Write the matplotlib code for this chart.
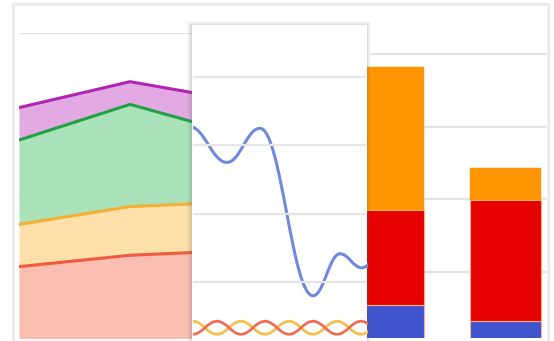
import matplotlib
matplotlib.use("Agg")
import matplotlib.pyplot as plt
from matplotlib.patches import Rectangle, PathPatch
from matplotlib.path import Path

W, H = 554, 341

# ---- stacked area chart (back card, left) ----
area_x = [0, 1, 2]
area_red = [28, 31.5, 33]
area_orange = [13, 15, 15]
area_green = [26, 31.5, 20.5]
area_purple = [10, 7, 10.5]
area_fills = ["#f9bdb1", "#fde0a9", "#a9e2b9", "#e3a9e2"]
area_lines = ["#ef5b3c", "#f3b033", "#22a144", "#b023b3"]

# ---- smooth line chart (front card) ----
wave_x = [-0.2, 1.95, 3.85, 6.9, 8.45, 9.7, 11.2]
wave_y = [65.5, 55, 65, 15.9, 28.2, 24.1, 31]
osc_x = [0, 1.38, 2.76, 4.14, 5.52, 6.9, 8.28, 9.66, 11.04]
osc_orange = [8.4, 4.6, 8.4, 4.6, 8.4, 4.6, 8.4, 4.6, 8.4]
osc_red = [4.6, 8.4, 4.6, 8.4, 4.6, 8.4, 4.6, 8.4, 4.6]

# ---- stacked bar chart (back card, right) ----
bar_pos = [0, 1]
bar_blue = [11, 6.5]
bar_red = [26, 33.3]
bar_orange = [39.5, 8.8]

fig = plt.figure(figsize=(W / 100, H / 100), dpi=100)
fig.patch.set_facecolor("white")


def px_axes(x0, y0, x1, y1, z):
    """Axes placed by pixel box (top-left origin)."""
    ax = fig.add_axes([x0 / W, 1 - y1 / H, (x1 - x0) / W, (y1 - y0) / H], zorder=z)
    ax.set_axis_off()
    return ax


def smooth_path(xs, ys):
    """Bezier path through points with flat tangents at each point."""
    verts = [(xs[0], ys[0])]
    codes = [Path.MOVETO]
    for i in range(len(xs) - 1):
        dx = (xs[i + 1] - xs[i]) * 0.4
        verts += [(xs[i] + dx, ys[i]), (xs[i + 1] - dx, ys[i + 1]), (xs[i + 1], ys[i + 1])]
        codes += [Path.CURVE4] * 3
    return Path(verts, codes)


# background card frame
bg = fig.add_axes([0, 0, 1, 1], zorder=0)
bg.set_xlim(0, W)
bg.set_ylim(H, 0)
bg.set_axis_off()
for i, a in enumerate([0.05, 0.08, 0.12]):
    bg.add_patch(Rectangle((12 + i, 3 + i), 538 - 2 * i, 360, fill=False,
                           ec="#b0b0b0", lw=1.2, alpha=a * 2))
bg.add_patch(Rectangle((15, 6), 532, 360, fc="white", ec="none"))

# stacked area
ax1 = px_axes(19, 33, 241, 338, 1)
ax1.set_xlim(0, 2)
ax1.set_ylim(6, 100)
for g in [25, 50, 75, 100]:
    ax1.axhline(g, color="#e3e3e3", lw=1.6, zorder=0.5)
base = [0, 0, 0]
for vals, fc, lc in zip([area_red, area_orange, area_green, area_purple], area_fills, area_lines):
    top = [b + v for b, v in zip(base, vals)]
    ax1.fill_between(area_x, base, top, color=fc, lw=0, zorder=1)
    ax1.plot(area_x, top, color=lc, lw=2.2, zorder=2, solid_capstyle="butt")
    base = top

# stacked bars
grid_ax = px_axes(370, 10, 547, 338, 0.9)
grid_ax.set_xlim(0, 1)
grid_ax.set_ylim(1.9, 92.1)
for g in [20, 40, 60, 80]:
    grid_ax.axhline(g, color="#e3e3e3", lw=1.6)
grid_ax.patch.set_alpha(0)

ax3 = px_axes(353, 10, 547, 338, 1)
ax3.patch.set_alpha(0)
ax3.set_xlim(-0.303, 1.355)
ax3.set_ylim(1.9, 92.1)
b1 = bar_blue
b2 = [a + b for a, b in zip(bar_blue, bar_red)]
ax3.bar(bar_pos, bar_blue, width=0.607, color="#3f53cc", edgecolor="#f7b0a0", lw=0.8)
ax3.bar(bar_pos, bar_red, width=0.607, bottom=b1, color="#e60000", edgecolor="#ffb080", lw=0.8)
ax3.bar(bar_pos, bar_orange, width=0.607, bottom=b2, color="#ff9500", edgecolor="#ff9500", lw=0.3)

# front card with soft shadow
shadow = fig.add_axes([0, 0, 1, 1], zorder=2)
shadow.set_xlim(0, W)
shadow.set_ylim(H, 0)
shadow.set_axis_off()
shadow.patch.set_alpha(0)
for i, a in enumerate([0.03, 0.05, 0.07, 0.09]):
    shadow.add_patch(Rectangle((187 + i, 21 + i), 184 - 2 * i, 340, fc="#707070",
                               ec="none", alpha=a))
shadow.add_patch(Rectangle((192, 25), 175, 340, fc="white", ec="none"))

ax2 = px_axes(193, 25, 368, 338, 3)
ax2.patch.set_alpha(0)
ax2.set_xlim(0, 10.06)
ax2.set_ylim(3.5, 95.3)
for g in [20, 40, 60, 80]:
    ax2.axhline(g, xmax=0.985, color="#e6e6e6", lw=1.6)
ax2.add_patch(PathPatch(smooth_path(wave_x, wave_y), fc="none", ec="#7189dd", lw=2.2))
ax2.add_patch(PathPatch(smooth_path(osc_x, osc_orange), fc="none", ec="#f6c04e", lw=2.0))
ax2.add_patch(PathPatch(smooth_path(osc_x, osc_red), fc="none", ec="#ec6f55", lw=2.0))

fig.savefig("out.png", dpi=100, facecolor="white")
